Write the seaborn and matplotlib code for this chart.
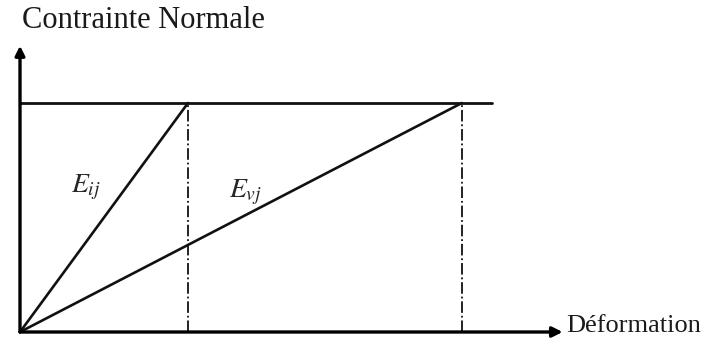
import matplotlib
matplotlib.use("Agg")
import matplotlib.pyplot as plt
import seaborn as sns
import pandas as pd

sns.set_theme(style="white")
plt.rcParams['font.family'] = ['Liberation Serif', 'DejaVu Serif']
plt.rcParams['mathtext.fontset'] = 'stix'

# Data (normalised units)
sigma_max = 1.0          # normal stress level
eps_ij = 1.0             # strain at sigma_max for E_ij
eps_vj = 2.63            # strain at sigma_max for E_vj
plateau_end = 2.81       # extent of horizontal line
x_axis_end = 3.23
y_axis_end = 1.25
labels = ["$E_{ij}$", "$E_{vj}$"]
axis_titles = ["Contrainte Normale", "Déformation"]

lines = pd.DataFrame({
    "x": [0, eps_ij, 0, eps_vj],
    "y": [0, sigma_max, 0, sigma_max],
    "modulus": ["Eij", "Eij", "Evj", "Evj"],
})

fig = plt.figure(figsize=(7.07, 3.42), dpi=100)
ax = fig.add_axes([0, 0, 1, 1])
ax.set_xlim(-20 / 168, (707 - 20) / 168)
ax.set_ylim(-10 / 229, 332 / 229)
ax.axis("off")

sns.lineplot(data=lines, x="x", y="y", units="modulus", estimator=None,
             color="#111111", lw=1.9, ax=ax, legend=False)
sns.lineplot(x=[0, plateau_end], y=[sigma_max, sigma_max], color="#111111",
             lw=2.0, ax=ax, legend=False)
for xe in (eps_ij, eps_vj):
    ax.plot([xe, xe], [0, sigma_max], color="#111111", lw=1.3, ls="-.")

# axes with arrows
ax.annotate("", xy=(0, y_axis_end), xytext=(0, 0),
            arrowprops=dict(arrowstyle="-|>", color="black", lw=2.4,
                            mutation_scale=14, shrinkA=0, shrinkB=0))
ax.annotate("", xy=(x_axis_end, 0), xytext=(0, 0),
            arrowprops=dict(arrowstyle="-|>", color="black", lw=2.4,
                            mutation_scale=15, shrinkA=0, shrinkB=0))

ax.text(0.01, 1.36, axis_titles[0], fontsize=22, ha="left", va="center",
        color="#1a1a1a")
ax.text(x_axis_end + 0.02, 0.025, axis_titles[1], fontsize=19, ha="left",
        va="center", color="#1a1a1a")
ax.text(0.39, 0.63, labels[0], fontsize=20, ha="center", va="center")
ax.text(1.345, 0.61, labels[1], fontsize=20, ha="center", va="center")

fig.savefig("out.png", dpi=100)
